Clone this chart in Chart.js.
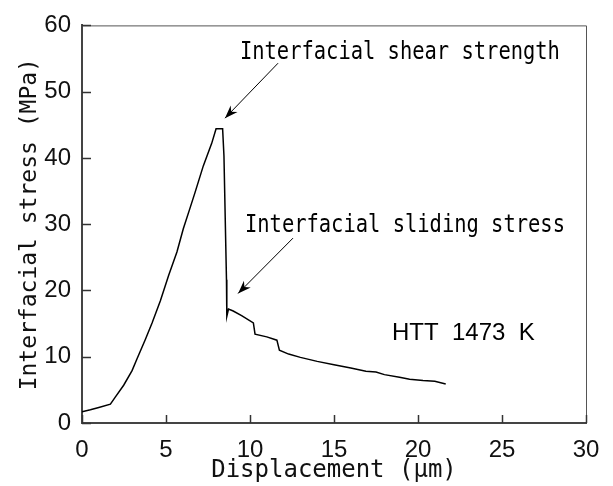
<!DOCTYPE html>
<html>
<head>
<meta charset="utf-8">
<script src="https://cdn.jsdelivr.net/npm/chart.js"></script>
<style>
  html, body { margin: 0; padding: 0; background: #fff; }
</style>
</head>
<body>
<canvas id="chart" width="613" height="486"></canvas>
<script>
// === Donnees ===
const dispX = [0, 0.5, 1.0, 1.69, 1.98, 2.48, 2.98, 3.27, 3.77, 4.17, 4.66, 5.16, 5.65, 6.03, 6.4, 6.73, 7.22, 7.72, 7.98,
  8.37, 8.45, 8.6, 8.62, 8.72, 9.0, 9.5, 10.2, 10.3, 11.0, 11.6, 11.75, 12.3, 13.0, 14.0, 15.0, 16.0, 16.9, 17.5,
  18.0, 18.9, 19.5, 20.3, 21.0, 21.65];
const stressY = [1.7, 2.0, 2.35, 2.85, 3.9, 5.7, 7.9, 9.65, 12.6, 15.1, 18.4, 22.3, 25.8, 29.3, 32.2, 34.8, 38.8, 42.2, 44.4,
  44.4, 40.3, 21.6, 16.1, 17.2, 16.9, 16.2, 15.1, 13.4, 13.0, 12.5, 11.0, 10.4, 9.9, 9.3, 8.8, 8.3, 7.8, 7.7,
  7.3, 6.9, 6.6, 6.4, 6.3, 5.9];
const xTicks = [0, 5, 10, 15, 20, 25, 30];
const yTicks = [0, 10, 20, 30, 40, 50, 60];

const points = dispX.map((x, i) => ({ x: x, y: stressY[i] }));

// texte compresse horizontalement (police "gothique" etroite de l'original)
function texteEtroit(ctx, txt, x, y, font, largeur) {
  ctx.save();
  ctx.font = font;
  const w = ctx.measureText(txt).width;
  ctx.translate(x, y);
  ctx.scale(largeur / w, 1);
  ctx.fillText(txt, 0, 0);
  ctx.restore();
}

function fleche(ctx, x1, y1, x2, y2) {
  const a = Math.atan2(y2 - y1, x2 - x1);
  ctx.beginPath();
  ctx.moveTo(x1, y1);
  ctx.lineTo(x2, y2);
  ctx.stroke();
  ctx.beginPath();
  ctx.moveTo(x2, y2);
  ctx.lineTo(x2 - 14 * Math.cos(a - 0.35), y2 - 14 * Math.sin(a - 0.35));
  ctx.lineTo(x2 - 9 * Math.cos(a), y2 - 9 * Math.sin(a));
  ctx.lineTo(x2 - 14 * Math.cos(a + 0.35), y2 - 14 * Math.sin(a + 0.35));
  ctx.closePath();
  ctx.fill();
}

const decor = {
  id: "decor",
  afterDraw(chart) {
    const ctx = chart.ctx;
    const xs = chart.scales.x, ys = chart.scales.y;
    const a = chart.chartArea;
    ctx.save();
    // cadre haut / droite
    ctx.strokeStyle = "#555";
    ctx.lineWidth = 1;
    ctx.beginPath();
    ctx.moveTo(a.left, a.top + 0.5);
    ctx.lineTo(a.right + 0.5, a.top + 0.5);
    ctx.lineTo(a.right + 0.5, a.bottom);
    ctx.stroke();
    // graduations vers l'interieur
    ctx.strokeStyle = "#333";
    ctx.lineWidth = 1.5;
    yTicks.forEach(v => {
      const py = Math.round(ys.getPixelForValue(v)) + 0.5;
      ctx.beginPath();
      ctx.moveTo(a.left, py);
      ctx.lineTo(a.left + 9, py);
      ctx.stroke();
    });
    xTicks.forEach(v => {
      const px = Math.round(xs.getPixelForValue(v)) + 0.5;
      ctx.beginPath();
      ctx.moveTo(px, a.bottom);
      ctx.lineTo(px, a.bottom - 8);
      ctx.stroke();
    });
    // annotations
    ctx.fillStyle = "#000";
    ctx.strokeStyle = "#000";
    ctx.lineWidth = 1;
    ctx.textBaseline = "alphabetic";
    texteEtroit(ctx, "Interfacial shear strength", xs.getPixelForValue(9.4), ys.getPixelForValue(54.9), "24px 'DejaVu Sans Mono'", 320);
    texteEtroit(ctx, "Interfacial sliding stress", xs.getPixelForValue(9.7), ys.getPixelForValue(28.8), "24px 'DejaVu Sans Mono'", 320);
    fleche(ctx, xs.getPixelForValue(11.67), ys.getPixelForValue(54.3), xs.getPixelForValue(8.51), ys.getPixelForValue(46.0));
    fleche(ctx, xs.getPixelForValue(12.56), ys.getPixelForValue(27.9), xs.getPixelForValue(9.29), ys.getPixelForValue(19.55));
    ctx.font = "24px 'Liberation Sans'";
    ctx.fillText("HTT  1473  K", xs.getPixelForValue(18.45), ys.getPixelForValue(12.5));
    ctx.restore();
  }
};

new Chart(document.getElementById("chart"), {
  type: "scatter",
  data: {
    datasets: [{
      data: points,
      showLine: true,
      borderColor: "#000",
      borderWidth: 1.5,
      pointRadius: 0,
      tension: 0,
      fill: false
    }]
  },
  options: {
    responsive: false,
    devicePixelRatio: 1,
    animation: false,
    layout: { padding: { top: 21, right: 27, left: 0, bottom: 0 } },
    plugins: { legend: { display: false }, tooltip: { enabled: false } },
    scales: {
      x: {
        type: "linear",
        min: 0, max: 30,
        afterBuildTicks: s => { s.ticks = xTicks.map(v => ({ value: v })); },
        afterFit: s => { s.height = 63; },
        grid: { display: false, drawTicks: false },
        border: { display: true, width: 2, color: "#444" },
        ticks: { color: "#111", padding: 13, font: { family: "'Liberation Sans'", size: 24 }, maxRotation: 0 },
        title: {
          display: true, text: "Displacement (μm)", color: "#111",
          font: { family: "'DejaVu Sans Mono'", size: 24 }, padding: { top: 0, bottom: 1 }
        }
      },
      y: {
        type: "linear",
        min: 0, max: 60,
        afterBuildTicks: s => { s.ticks = yTicks.map(v => ({ value: v })); },
        afterFit: s => { s.width = 82; },
        grid: { display: false, drawTicks: false },
        border: { display: true, width: 2, color: "#444" },
        ticks: { color: "#111", padding: 11, font: { family: "'Liberation Sans'", size: 24 } },
        title: {
          display: true, text: "Interfacial stress (MPa)", color: "#111",
          font: { family: "'DejaVu Sans Mono'", size: 23 }, padding: { top: 16, bottom: 0 }
        }
      }
    }
  },
  plugins: [decor]
});
</script>
</body>
</html>
